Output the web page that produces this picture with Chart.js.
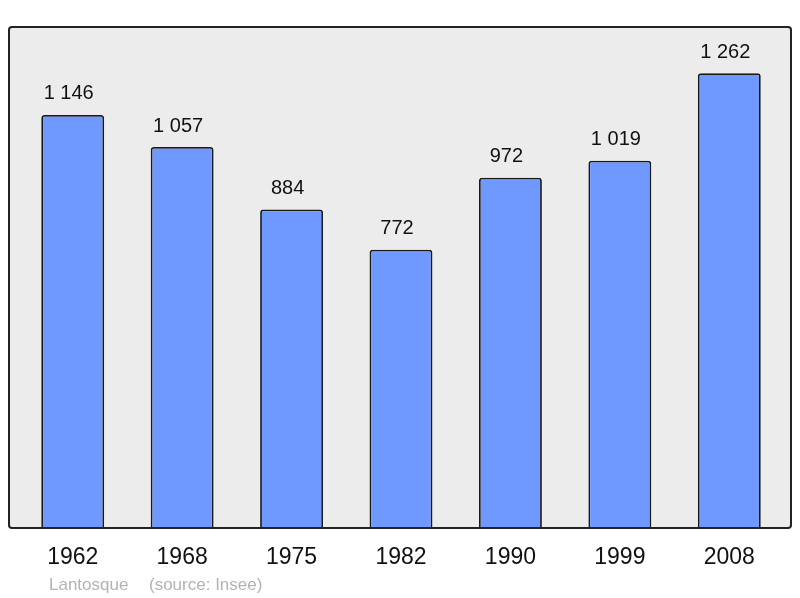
<!DOCTYPE html>
<html>
<head>
<meta charset="utf-8">
<script src="https://cdn.jsdelivr.net/npm/chart.js@4"></script>
<style>
  html, body { margin: 0; padding: 0; background: #fff; }
  #wrap { width: 800px; height: 598px; }
</style>
</head>
<body>
<div id="wrap"><canvas id="myChart01" width="800" height="598"></canvas></div>
<script>
// data
var years = ['1962', '1968', '1975', '1982', '1990', '1999', '2008'];
var population = [1146, 1057, 884, 772, 972, 1019, 1262];
var commune = 'Lantosque';
var source = '(source: Insee)';

function fmt(v) {
    return String(v).replace(/\B(?=(\d{3})+(?!\d))/g, ' ');
}

// frame behind the bars
var framePlugin = {
    id: 'frame',
    beforeDatasetsDraw: function (chart) {
        var a = chart.chartArea, c = chart.ctx;
        var x0 = a.left - 9, x1 = a.right + 7, y0 = a.top, y1 = a.bottom;
        c.save();
        c.beginPath();
        c.roundRect(x0, y0, x1 - x0, y1 - y0, 3);
        c.fillStyle = '#ececec';
        c.fill();
        c.restore();
    },
    afterDatasetsDraw: function (chart) {
        var a = chart.chartArea, c = chart.ctx;
        var x0 = a.left - 9, x1 = a.right + 7, y0 = a.top, y1 = a.bottom;
        c.save();
        c.beginPath();
        c.roundRect(x0, y0, x1 - x0, y1 - y0, 3);
        c.lineWidth = 2;
        c.strokeStyle = '#222';
        c.stroke();
        // value labels
        c.fillStyle = '#111';
        c.font = '20px "Liberation Sans", Arial, sans-serif';
        c.textAlign = 'center';
        c.textBaseline = 'middle';
        chart.getDatasetMeta(0).data.forEach(function (bar, i) {
            c.fillText(fmt(population[i]), bar.x - 4, bar.y - 21);
        });
        // footer
        c.fillStyle = '#b3b3b3';
        c.font = '17px "Liberation Sans", Arial, sans-serif';
        c.textAlign = 'left';
        c.fillText(commune, a.left + 31, 585);
        c.fillText(source, a.left + 131, 585);
        c.restore();
    }
};

var ctx01 = document.getElementById('myChart01');
var chart01 = new Chart(ctx01, {
    type: 'bar',
    data: {
        labels: years,
        datasets: [{
            data: population,
            backgroundColor: '#7099ff',
            borderColor: '#1a1a1a',
            borderWidth: 1.8,
            borderRadius: 3,
            categoryPercentage: 1,
            barPercentage: 0.575
        }]
    },
    options: {
        responsive: false,
        animation: false,
        layout: { padding: { left: 18, right: 16, top: 27, bottom: 0 } },
        plugins: { legend: { display: false }, tooltip: { enabled: false } },
        scales: {
            x: {
                grid: { display: false, drawTicks: false },
                border: { display: false },
                ticks: {
                    color: '#111',
                    padding: 16,
                    font: { size: 23, family: '"Liberation Sans", Arial, sans-serif' }
                },
                afterFit: function (s) { s.height = 70; }
            },
            y: {
                display: false,
                min: 0,
                max: 1390
            }
        }
    },
    plugins: [framePlugin]
});
</script>
</body>
</html>
